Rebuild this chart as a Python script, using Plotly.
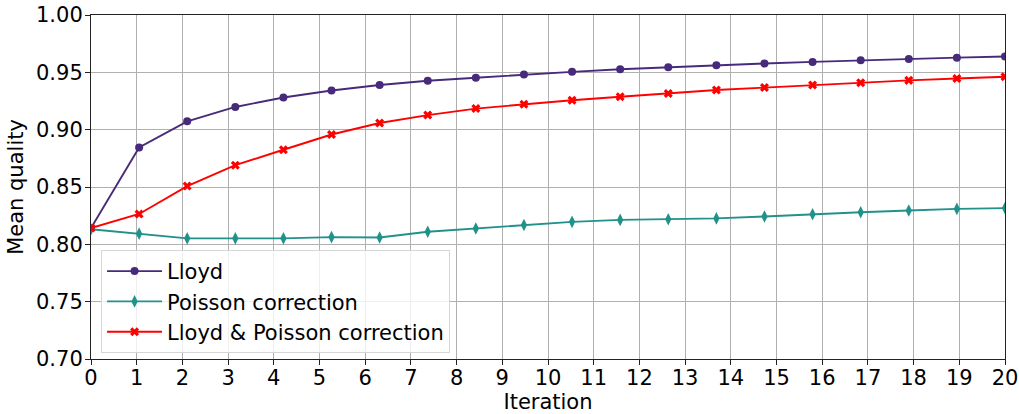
import numpy as np
import plotly.graph_objects as go

iterations = np.linspace(0, 20, 20)

lloyd = [0.8142, 0.8845, 0.9073, 0.9198, 0.9281, 0.9342, 0.9390, 0.9426, 0.9453, 0.9481,
         0.9504, 0.9527, 0.9545, 0.9562, 0.9577, 0.9591, 0.9605, 0.9616, 0.9628, 0.9638]
poisson = [0.8131, 0.8093, 0.8052, 0.8052, 0.8052, 0.8063, 0.8060, 0.8110, 0.8138, 0.8168,
           0.8196, 0.8213, 0.8219, 0.8226, 0.8243, 0.8263, 0.8280, 0.8295, 0.8309, 0.8316]
lloyd_poisson = [0.8142, 0.8265, 0.8508, 0.8690, 0.8825, 0.8958, 0.9058, 0.9127, 0.9184, 0.9222,
                 0.9257, 0.9287, 0.9315, 0.9346, 0.9367, 0.9390, 0.9410, 0.9430, 0.9446, 0.9461]

y_ticks = [0.70, 0.75, 0.80, 0.85, 0.90, 0.95, 1.00]
x_ticks = list(range(0, 21))

FS = 21

fig = go.Figure()
fig.add_trace(go.Scatter(x=iterations, y=lloyd, mode="lines+markers", name="Lloyd",
                         line=dict(color="#472a7a", width=1.9),
                         marker=dict(symbol="circle", size=8, color="#472a7a")))
fig.add_trace(go.Scatter(x=iterations, y=poisson, mode="lines+markers", name="Poisson correction",
                         line=dict(color="#21918c", width=1.9),
                         marker=dict(symbol="diamond-tall", size=9, color="#21918c")))
fig.add_trace(go.Scatter(x=iterations, y=lloyd_poisson, mode="lines+markers", name="Lloyd & Poisson correction",
                         line=dict(color="#ff0000", width=1.9),
                         marker=dict(symbol="x", size=8, color="#ff0000")))

axis_common = dict(showline=True, linecolor="#222222", linewidth=1.1, mirror=True,
                   ticks="outside", ticklen=5, tickcolor="#222222", tickwidth=1.1,
                   showgrid=True, gridcolor="#b0b0b0", gridwidth=1, zeroline=False,
                   automargin=False,
                   tickfont=dict(family="DejaVu Sans", size=FS, color="black"))

fig.update_xaxes(range=[0, 20], tickvals=x_ticks, ticktext=[str(t) for t in x_ticks],
                 ticklabelstandoff=-5,
                 title=dict(text="Iteration", font=dict(family="DejaVu Sans", size=FS, color="black"), standoff=0),
                 **axis_common)
fig.update_yaxes(range=[0.70, 1.00], tickvals=y_ticks, ticktext=[f"{t:.2f}" for t in y_ticks],
                 ticklabelstandoff=-2,
                 title=dict(text="Mean quality", font=dict(family="DejaVu Sans", size=FS, color="black"), standoff=6),
                 **axis_common)

fig.update_layout(
    width=1019, height=414,
    margin=dict(l=91, r=14, t=15, b=55),
    plot_bgcolor="white", paper_bgcolor="white",
    font=dict(family="DejaVu Sans", size=FS, color="black"),
    legend=dict(x=0.011, y=0.317, xanchor="left", yanchor="top",
                bgcolor="rgba(255,255,255,0.8)", bordercolor="#d6d6d6", borderwidth=1,
                itemwidth=55,
                font=dict(family="DejaVu Sans", size=FS, color="black"), tracegroupgap=0),
    showlegend=True,
)

fig.write_html("out.html", config={"displayModeBar": False},
               post_script="document.body.style.margin='0';document.body.style.overflow='hidden';")
